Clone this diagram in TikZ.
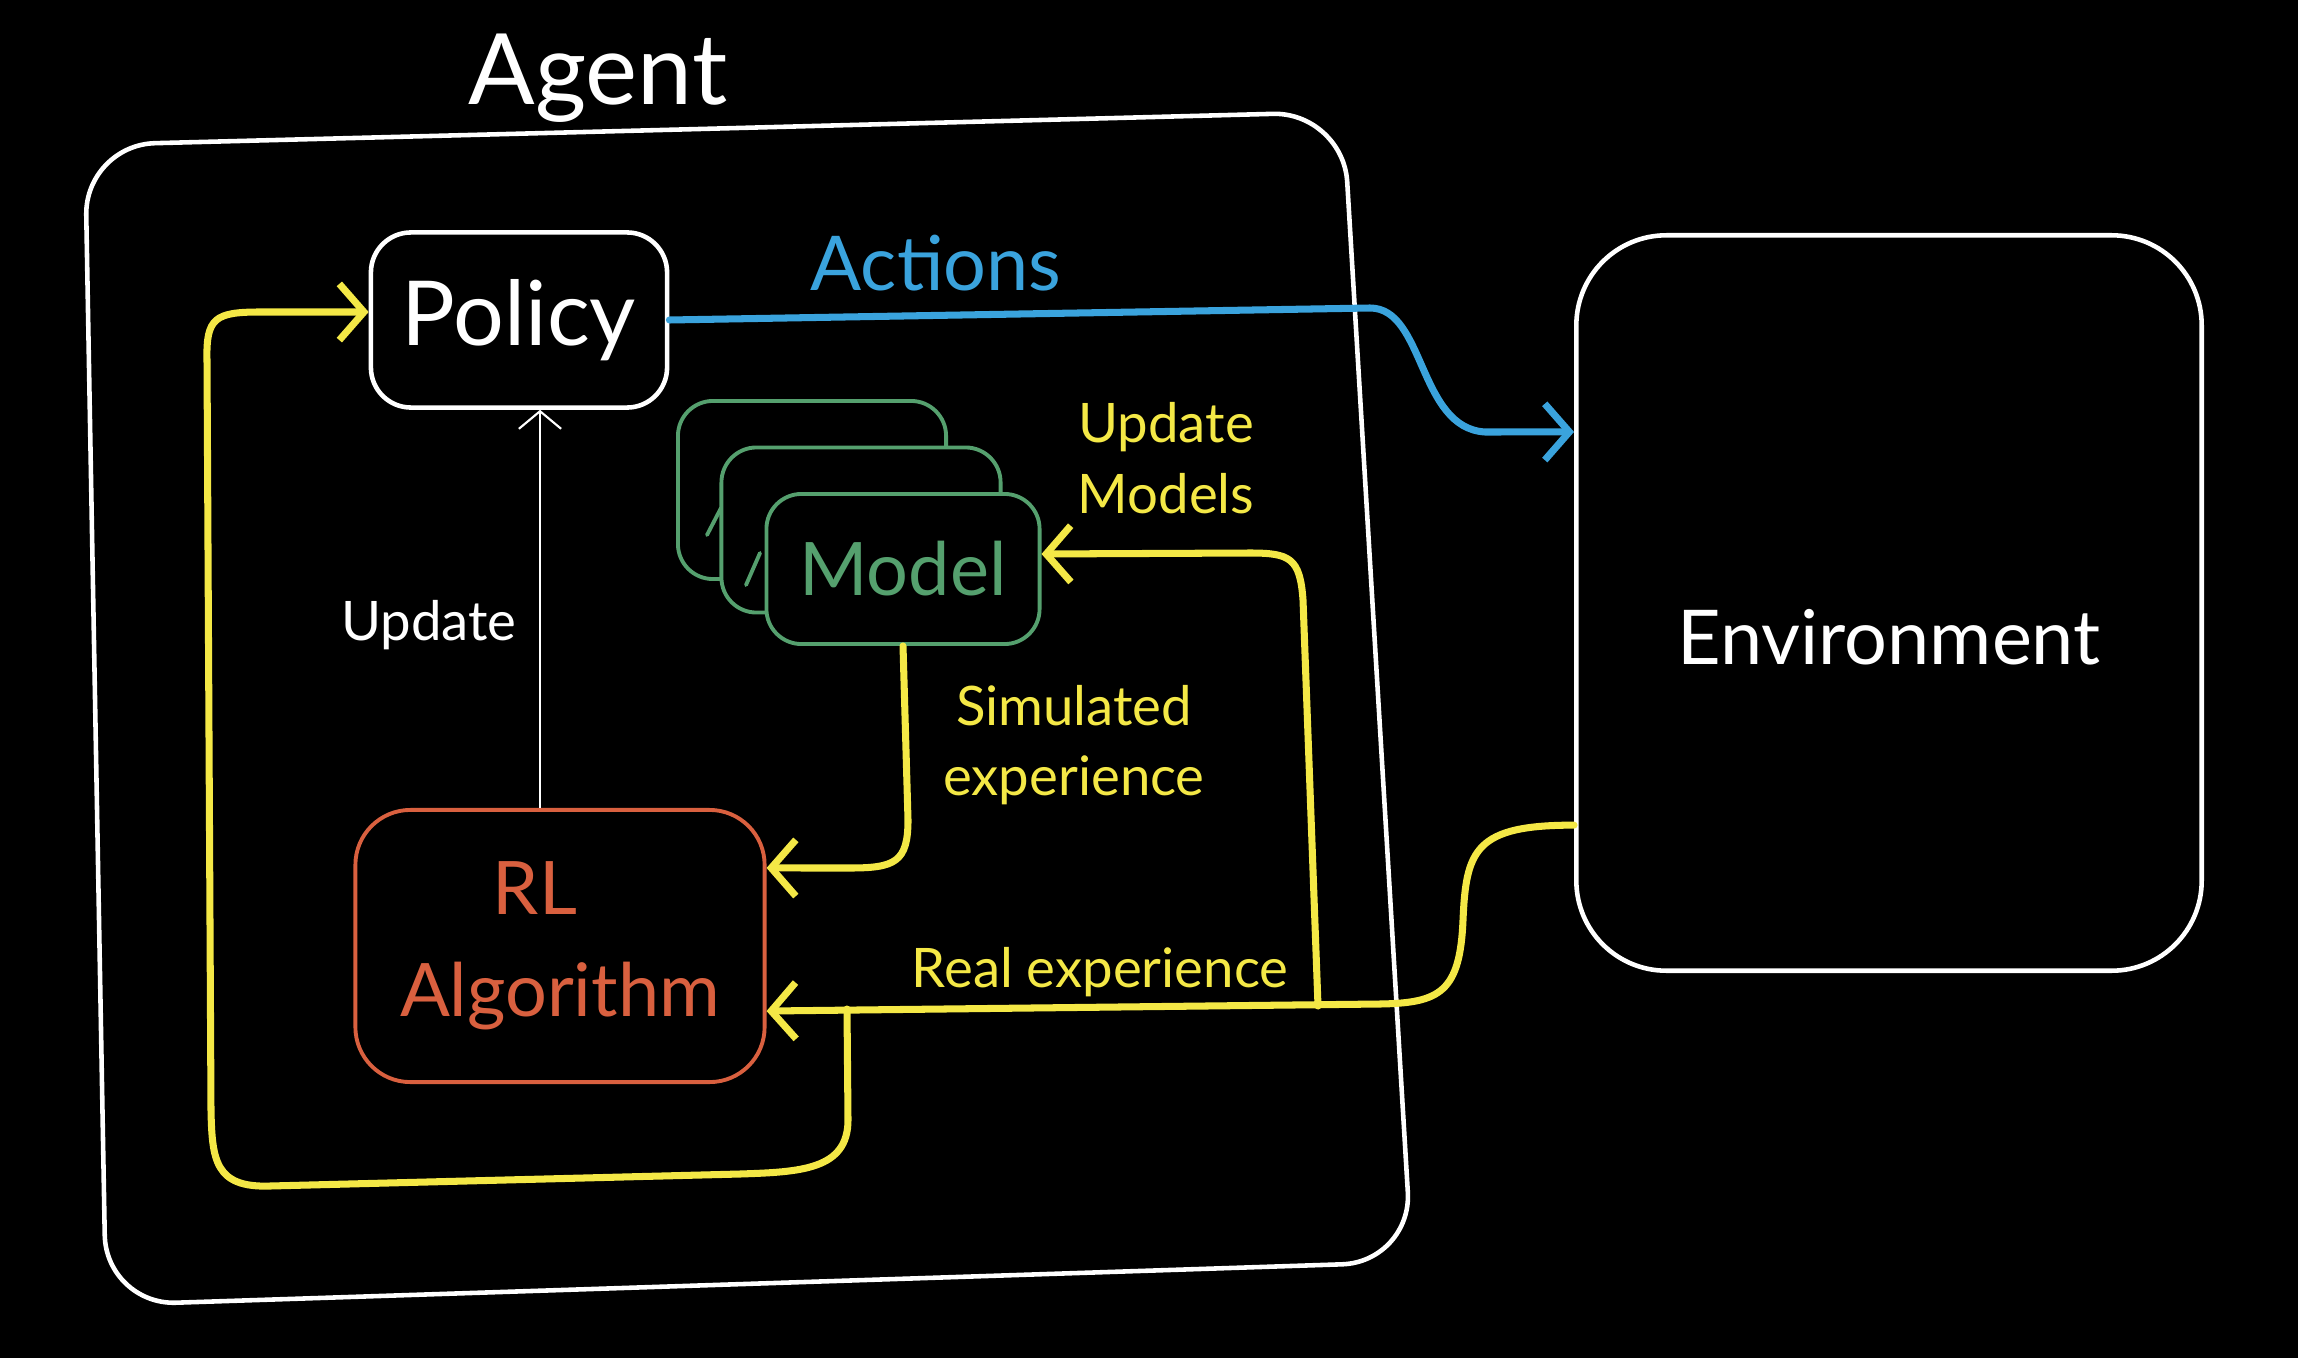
\documentclass[tikz,border=0pt]{standalone}
\usepackage{fontspec}
\setmainfont{Lato}
\usetikzlibrary{arrows.meta,positioning,calc}
\definecolor{rlyellow}{HTML}{F4E846}
\definecolor{rlblue}{HTML}{3AA3DD}
\definecolor{rlgreen}{HTML}{55A06E}
\definecolor{rlred}{HTML}{D9603F}
\begin{document}
\begin{tikzpicture}[x=0.01cm, y=-0.01cm,
  box/.style={draw=white, fill=black, text=white, line width=1.3pt,
    rounded corners=0.4cm, inner sep=0pt},
  modelbox/.style={box, draw=rlgreen, text=rlgreen, line width=1.1pt,
    rounded corners=0.35cm},
  smalltext/.style={font=\fontsize{15.5}{20}\selectfont, align=center},
  exparrow/.style={draw=rlyellow, line width=2pt, line cap=round, line join=round,
    -{Straight Barb[length=7pt,width=16pt]}}]
  \fill[black] (0,0) rectangle (2298,1358);
  \useasboundingbox (0,0) rectangle (2298,1358);
  \draw[white, line width=1.3pt, rounded corners=0.7cm]
    (700,129) -- (1343,112) -- (1412,1262) -- (106,1305) -- (85,145) -- cycle;
  \node[white, font=\fontsize{28}{32}\selectfont] (agent) at (598,78) {Agent};
  \node[box, font=\fontsize{25.5}{30}\selectfont, minimum width=2.96cm,
    minimum height=1.75cm] (policy) at (519,320) {Policy};
  \node[modelbox, minimum width=2.68cm, minimum height=1.78cm] (modelc) at (812,490) {};
  \draw[rlgreen, line width=1.1pt, line cap=round] (707,535) -- (721,508);
  \node[modelbox, minimum width=2.79cm, minimum height=1.65cm] (modelb) at (861,530) {};
  \draw[rlgreen, line width=1.1pt, line cap=round] (746,585) -- (760,553);
  \node[modelbox, font=\fontsize{21}{25}\selectfont, minimum width=2.73cm,
    minimum height=1.5cm] (model) at (903,569) {Model};
  \node[box, draw=rlred, text=rlred, font=\fontsize{21}{25}\selectfont, line width=1.1pt,
    align=center, rounded corners=0.55cm, minimum width=4.09cm, minimum height=2.72cm]
    (rl) at (560,946) {RL\hspace*{0.5cm}\\[4pt]Algorithm};
  \node[box, rounded corners=0.9cm, minimum width=6.25cm, minimum height=7.35cm,
    label={[name=envtext, yshift=-0.34cm, text=white,
      font=\fontsize{21.5}{26}\selectfont]center:Environment}] (env) at (1889,603) {};
  \node[rlblue, font=\fontsize{21.5}{26}\selectfont] (actions) at (936,263) {Actions};
  \node[white, smalltext] (update) at (429,625) {Update};
  \node[rlyellow, smalltext] (updmodels) at (1166,458) {Update\\Models};
  \node[rlyellow, smalltext] (simexp) at (1074,745) {Simulated\\experience};
  \node[rlyellow, smalltext] (realexp) at (1100,972) {Real experience};
  \coordinate (upx) at (540,0);
  \coordinate (split) at (1318,1006);
  \coordinate (loopstart) at (847,1009);
  \draw[rlblue, line width=2pt, line cap=round, -{Straight Barb[length=7pt,width=16pt]}]
    (policy.east) -- (1370,308) .. controls (1425,308) and (1418,428) .. (1485,432)
    -- ([yshift=1.71cm]env.west);
  \draw[white, line width=0.6pt, -{Straight Barb[length=5pt,width=12pt]}]
    (rl.north -| upx) -- (policy.south -| upx);
  \draw[exparrow] ([yshift=-2.22cm]env.west) .. controls (1475,825) and (1466,850) .. (1463,920)
    .. controls (1460,992) and (1440,1003) .. (1380,1004) -- ([yshift=-0.65cm]rl.east);
  \draw[exparrow] (split) -- (1303,600) .. controls (1300,558) and (1290,553) .. (1250,553)
    -- ([yshift=0.15cm]model.east);
  \draw[exparrow] (model.south) -- (908,820) .. controls (908,862) and (895,868) .. (850,868)
    -- ([yshift=0.78cm]rl.east);
  \draw[exparrow] (loopstart) -- (848,1120) .. controls (848,1170) and (800,1172) .. (740,1174)
    -- (270,1186) .. controls (215,1188) and (212,1160) .. (211,1110)
    -- (207,360) .. controls (206,318) and (215,312) .. (260,312)
    -- ([yshift=0.08cm]policy.west);
\end{tikzpicture}
\end{document}
